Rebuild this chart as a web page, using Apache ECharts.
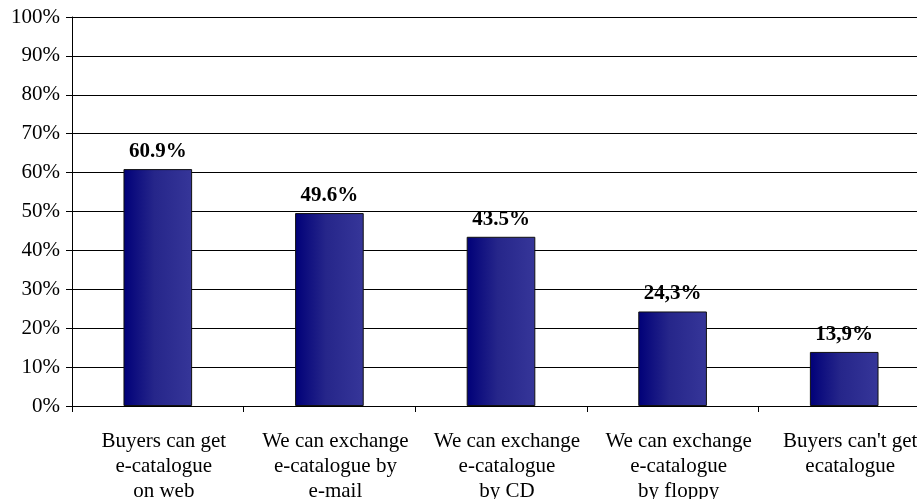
<!DOCTYPE html>
<html>
<head>
<meta charset="utf-8">
<script src="https://cdn.jsdelivr.net/npm/echarts@6/dist/echarts.min.js"></script>
<style>
  html, body { margin: 0; padding: 0; background: #fff; }
  #chart { width: 917px; height: 499px; }
</style>
</head>
<body>
<div id="chart"></div>
<script>
// Ways of exchanging the e-catalogue with buyers
const categories = [
  'Buyers can get\ne-catalogue\non web',
  'We can exchange\ne-catalogue by\ne-mail',
  'We can exchange\ne-catalogue\nby CD',
  'We can exchange\ne-catalogue\nby floppy',
  "Buyers can't get\necatalogue"
];
const shares = [60.9, 49.6, 43.5, 24.3, 13.9];
const shareLabels = ['60.9%', '49.6%', '43.5%', '24,3%', '13,9%'];
const yTicks = { min: 0, max: 100, step: 10 };

const serif = '"Liberation Serif", "Times New Roman", serif';

const chart = echarts.init(document.getElementById('chart'));
chart.setOption({
  animation: false,
  grid: {
    left: 72, top: 17, width: 858, height: 389,
    containLabel: false, outerBoundsMode: 'none'
  },
  xAxis: {
    type: 'category',
    data: categories,
    axisLine: { lineStyle: { color: '#000', width: 1 } },
    axisTick: { show: true, length: 6, lineStyle: { color: '#000' } },
    axisLabel: {
      color: '#000', fontFamily: serif, fontSize: 21, lineHeight: 25,
      margin: 23, interval: 0, padding: [0, 0, 0, 12]
    },
    splitLine: { show: false }
  },
  yAxis: {
    type: 'value',
    min: yTicks.min, max: yTicks.max, interval: yTicks.step,
    axisLine: { show: true, lineStyle: { color: '#000', width: 1 } },
    axisTick: { show: true, length: 6, lineStyle: { color: '#000' } },
    axisLabel: {
      color: '#000', fontFamily: serif, fontSize: 21, margin: 12,
      formatter: v => v + '%'
    },
    splitLine: { show: true, lineStyle: { color: '#000', width: 1 } }
  },
  series: [{
    type: 'bar',
    data: shares,
    barWidth: '40%',
    itemStyle: {
      color: new echarts.graphic.LinearGradient(0, 0, 1, 0, [
        { offset: 0, color: '#000078' },
        { offset: 0.45, color: '#26268a' },
        { offset: 1, color: '#363699' }
      ]),
      borderColor: '#111',
      borderWidth: 1
    },
    label: {
      show: true,
      position: 'top',
      distance: 7,
      color: '#000',
      fontFamily: serif,
      fontSize: 21,
      fontWeight: 'bold',
      formatter: p => shareLabels[p.dataIndex]
    }
  }]
});
</script>
</body>
</html>
